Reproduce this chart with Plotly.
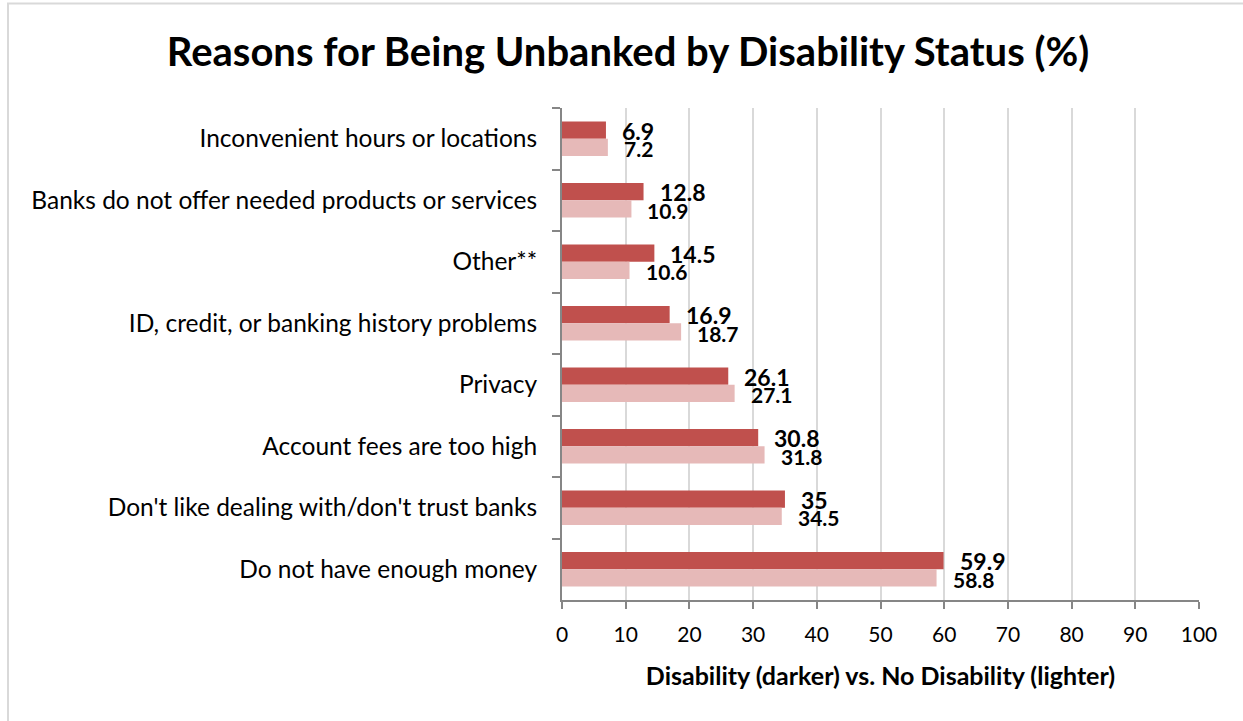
import plotly.graph_objects as go

categories = [
    "Inconvenient hours or locations",
    "Banks do not offer needed products or services",
    "Other**",
    "ID, credit, or banking history problems",
    "Privacy",
    "Account fees are too high",
    "Don't like dealing with/don't trust banks",
    "Do not have enough money",
]
disability = [6.9, 12.8, 14.5, 16.9, 26.1, 30.8, 35, 59.9]
no_disability = [7.2, 10.9, 10.6, 18.7, 27.1, 31.8, 34.5, 58.8]
x_ticks = [0, 10, 20, 30, 40, 50, 60, 70, 80, 90, 100]

DARK = "#C0504D"
LIGHT = "#E6B9B8"
FONT = "Lato"

fig = go.Figure()
fig.add_trace(go.Bar(y=categories, x=disability, orientation="h",
                     marker=dict(color=DARK, line_width=0), name="Disability"))
fig.add_trace(go.Bar(y=categories, x=no_disability, orientation="h",
                     marker=dict(color=LIGHT, line_width=0), name="No Disability"))

# value labels beside each bar
annotations = []
for cat, v in zip(categories, disability):
    annotations.append(dict(x=v, y=cat, xref="x", yref="y", text=f"{v:g}",
                            showarrow=False, xanchor="left", yanchor="middle",
                            xshift=14, yshift=8,
                            font=dict(family=FONT, size=23, color="black", weight="bold")))
for cat, v in zip(categories, no_disability):
    annotations.append(dict(x=v, y=cat, xref="x", yref="y", text=f"{v:g}",
                            showarrow=False, xanchor="left", yanchor="middle",
                            xshift=14, yshift=-10,
                            font=dict(family=FONT, size=21, color="black", weight="bold")))

fig.update_layout(
    width=1243, height=721,
    margin=dict(l=562, r=44, t=108, b=121),
    paper_bgcolor="white", plot_bgcolor="white",
    barmode="group", bargap=0.44, bargroupgap=0,
    showlegend=False,
    font=dict(family=FONT, color="black"),
    title=dict(text="<b>Reasons for Being Unbanked by Disability Status (%)</b>",
               x=628 / 1243, xref="container", xanchor="center",
               y=1 - 52 / 721, yanchor="middle",
               font=dict(family=FONT, size=40, color="black")),
    xaxis=dict(range=[0, 100], tickvals=x_ticks, showgrid=True,
               gridcolor="#D9D9D9", gridwidth=2, zeroline=False,
               showline=True, linecolor="#868686", linewidth=2,
               ticks="outside", ticklen=7, tickcolor="#868686", tickwidth=2,
               ticklabelstandoff=8,
               tickfont=dict(family=FONT, size=21, color="black"),
               title=dict(text="<b>Disability (darker) vs. No Disability (lighter)</b>",
                          font=dict(family=FONT, size=25, color="black"),
                          standoff=22)),
    yaxis=dict(autorange="reversed", showline=True, linecolor="#868686",
               linewidth=2, ticks="outside", ticklen=8, tickcolor="#868686",
               tickwidth=2, tickson="boundaries", showgrid=False,
               tickfont=dict(family=FONT, size=24.5, color="black"),
               ticklabelstandoff=18),
    annotations=annotations,
    shapes=[dict(type="rect", xref="paper", yref="paper",
                 x0=(8 - 562) / 637, x1=(1260 - 562) / 637,
                 y0=(600 - 740) / 492, y1=(600 - 3.5) / 492,
                 line=dict(color="#D9D9D9", width=2), layer="below")],
)

fig.write_html("out.html")
